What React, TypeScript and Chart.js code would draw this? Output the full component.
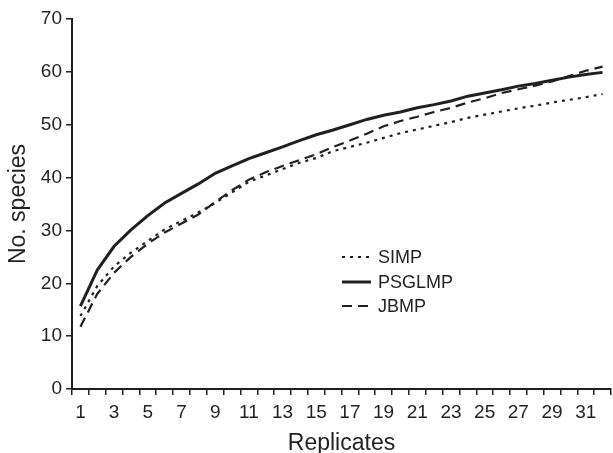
import React, { useEffect, useRef } from "react";
import { Chart, registerables } from "chart.js";

Chart.register(...registerables);

const categories = Array.from({ length: 32 }, (_, i) => String(i + 1));
const simp = [13.8, 19.5, 23.2, 25.8, 28, 30.2, 31.8, 33.4, 35.2, 37.2, 39.2, 40.4, 41.6, 42.8, 43.7, 45, 45.8, 46.6, 47.5, 48.4, 49.1, 49.8, 50.5, 51.3, 51.9, 52.5, 53.1, 53.6, 54.2, 54.7, 55.2, 55.8];
const psglmp = [15.7, 22.5, 27, 30.1, 32.8, 35.2, 37, 38.8, 40.8, 42.2, 43.6, 44.7, 45.8, 47, 48.1, 49, 50, 51, 51.8, 52.4, 53.2, 53.8, 54.5, 55.4, 56, 56.6, 57.3, 57.8, 58.4, 59, 59.5, 59.9];
const jbmp = [11.8, 18, 22, 25, 27.5, 29.6, 31.3, 33, 35.4, 37.6, 39.6, 41, 42.2, 43.3, 44.4, 45.8, 47, 48.3, 49.7, 50.7, 51.5, 52.4, 53.2, 54.2, 55, 56, 56.7, 57.4, 58.2, 59.2, 60.2, 61];
const legendLabels = ["SIMP", "PSGLMP", "JBMP"];

const INK = "#231f20";
const FONT = "'Liberation Sans', Arial, Helvetica, sans-serif";

const legendPlugin = {
  id: "insideLegend",
  afterDraw(chart: any) {
    const ctx = chart.ctx;
    const styles = [
      { dash: [3, 5], w: 2.2 },
      { dash: [], w: 3 },
      { dash: [10, 6], w: 2.2 },
    ];
    const x0 = 342;
    const x1 = 371;
    const ys = [257, 282, 306];
    ctx.save();
    legendLabels.forEach((lab, i) => {
      ctx.beginPath();
      ctx.setLineDash(styles[i].dash);
      ctx.lineWidth = styles[i].w;
      ctx.strokeStyle = INK;
      ctx.moveTo(x0, ys[i]);
      ctx.lineTo(x1, ys[i]);
      ctx.stroke();
      ctx.setLineDash([]);
      ctx.fillStyle = INK;
      ctx.font = `18px ${FONT}`;
      ctx.textBaseline = "middle";
      ctx.textAlign = "left";
      ctx.fillText(lab, 378, ys[i] + 1);
    });
    ctx.restore();
  },
};

export default function App() {
  const ref = useRef<HTMLCanvasElement>(null);
  useEffect(() => {
    if (!ref.current) return;
    const chart = new Chart(ref.current, {
      type: "line",
      data: {
        labels: categories,
        datasets: [
          { label: "SIMP", data: simp, borderColor: INK, borderWidth: 2.2, borderDash: [3, 5], pointRadius: 0, tension: 0, fill: false },
          { label: "PSGLMP", data: psglmp, borderColor: INK, borderWidth: 3, pointRadius: 0, tension: 0, fill: false },
          { label: "JBMP", data: jbmp, borderColor: INK, borderWidth: 2.2, borderDash: [10, 6], pointRadius: 0, tension: 0, fill: false },
        ],
      },
      options: {
        responsive: false,
        animation: false,
        layout: { padding: { top: 19, right: 2, left: 0, bottom: 0 } },
        plugins: { legend: { display: false }, tooltip: { enabled: false } },
        scales: {
          x: {
            type: "category",
            offset: true,
            grid: { offset: true, drawOnChartArea: false, drawTicks: true, tickLength: 6, color: INK, lineWidth: 1.5 },
            border: { display: true, color: INK, width: 2 },
            ticks: {
              autoSkip: false,
              maxRotation: 0,
              color: INK,
              padding: 6,
              font: { family: FONT, size: 19 },
              callback: (_v: any, i: number) => (i % 2 === 0 ? categories[i] : ""),
            },
            title: { display: true, text: "Replicates", color: INK, font: { family: FONT, size: 23, lineHeight: 1.0 }, padding: { top: 0, bottom: -2 } },
            afterFit: (s: any) => { s.height = 64; },
          },
          y: {
            min: 0,
            max: 70,
            grid: { drawOnChartArea: false, drawTicks: true, tickLength: 6, color: INK, lineWidth: 1.5 },
            border: { display: true, color: INK, width: 2 },
            ticks: { stepSize: 10, color: INK, padding: 4, font: { family: FONT, size: 19 } },
            title: { display: true, text: "No. species", color: INK, font: { family: FONT, size: 23, lineHeight: 1.0 }, padding: { top: 7, bottom: 0 } },
            afterFit: (s: any) => { s.width = 72; },
          },
        },
      },
      plugins: [legendPlugin],
    });
    return () => chart.destroy();
  }, []);
  return (
    <div style={{ position: "fixed", left: 0, top: 0, width: 613, height: 453, background: "#fff" }}>
      <canvas ref={ref} width={613} height={453} style={{ width: 613, height: 453 }} />
    </div>
  );
}
